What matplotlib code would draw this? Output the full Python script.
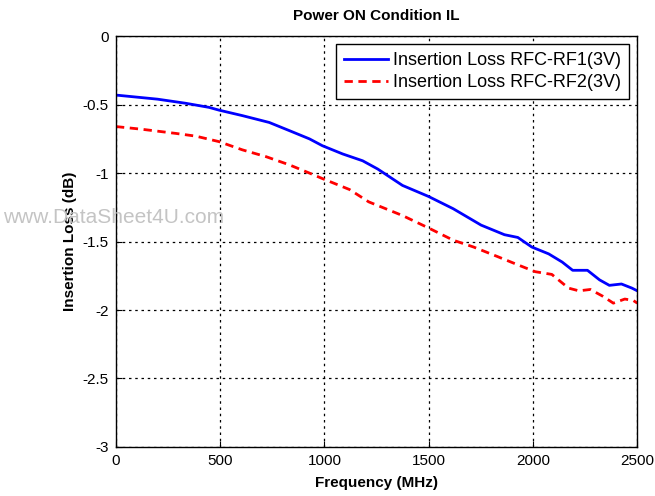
import matplotlib
matplotlib.use("Agg")
import matplotlib.pyplot as plt

# values (frequency in MHz, insertion loss in dB)
freq_rf1 = [0, 200, 335, 447, 494, 606, 735, 832, 928, 990, 1087, 1183, 1255,
            1374, 1498, 1617, 1751, 1863, 1927, 1994, 2075, 2140, 2190, 2261,
            2319, 2366, 2424, 2474, 2500]
il_rf1 = [-0.43, -0.46, -0.49, -0.52, -0.54, -0.58, -0.63, -0.69, -0.75, -0.80,
          -0.86, -0.91, -0.97, -1.09, -1.17, -1.26, -1.38, -1.45, -1.47, -1.54,
          -1.59, -1.65, -1.71, -1.71, -1.78, -1.82, -1.81, -1.84, -1.86]

freq_rf2 = [0, 126, 287, 383, 494, 606, 720, 832, 928, 990, 1120, 1212, 1374,
            1498, 1617, 1715, 1830, 1927, 2010, 2090, 2170, 2220, 2275, 2335,
            2385, 2440, 2480, 2500]
il_rf2 = [-0.66, -0.68, -0.71, -0.73, -0.77, -0.83, -0.88, -0.94, -1.00, -1.04,
          -1.12, -1.21, -1.31, -1.40, -1.49, -1.54, -1.61, -1.67, -1.72, -1.74,
          -1.84, -1.86, -1.85, -1.90, -1.95, -1.92, -1.93, -1.95]

plt.rcParams["font.family"] = ["Liberation Sans", "DejaVu Sans"]

fig = plt.figure(figsize=(6.55, 4.96), dpi=100)
ax = fig.add_axes([0.177, 0.099, 0.796, 0.828])

ax.plot(freq_rf1, il_rf1, color="#0000ff", lw=2, label="Insertion Loss RFC-RF1(3V)")
ax.plot(freq_rf2, il_rf2, color="#ff0000", lw=2, ls=(0, (3, 2)),
        label="Insertion Loss RFC-RF2(3V)")

ax.set_xlim(0, 2500)
ax.set_ylim(-3, 0)
ax.set_xticks([0, 500, 1000, 1500, 2000, 2500])
ax.set_yticks([-3, -2.5, -2, -1.5, -1, -0.5, 0])
ax.set_yticklabels(["-3", "-2.5", "-2", "-1.5", "-1", "-0.5", "0"])
ax.tick_params(labelsize=11, direction="in", length=4, pad=5)
ax.grid(True, color="black", ls=(0, (2, 3)), lw=0.9)
for s in ax.spines.values():
    s.set_linewidth(1)

ax.set_title("Power ON Condition IL", fontsize=11, fontweight="bold", pad=12)
ax.set_xlabel("Frequency (MHz)", fontsize=11, fontweight="bold", labelpad=6)
ax.set_ylabel("Insertion Loss (dB)", fontsize=11, fontweight="bold")

leg = ax.legend(loc="upper right", fontsize=13, fancybox=False, framealpha=1,
                edgecolor="black", borderaxespad=0.45, handlelength=2.4,
                labelspacing=0.25, borderpad=0.45, handletextpad=0.3)
leg.get_frame().set_linewidth(1)

fig.text(0.005, 0.562, "www.DataSheet4U.com", fontsize=15, color="#c4c4c4",
         va="center", ha="left")

fig.savefig("out.png", dpi=100)
